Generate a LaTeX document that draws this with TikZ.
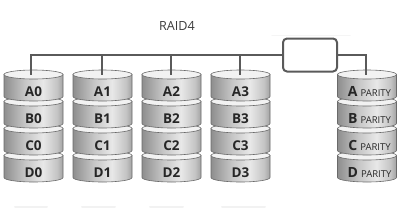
\documentclass[tikz,border=0pt]{standalone}
\usepackage{fontspec}
\newfontfamily\labfont{Open Sans}
\definecolor{dl}{HTML}{8E8E8E}
\definecolor{dm}{HTML}{C4C4C4}
\definecolor{dh}{HTML}{E8E8E8}
\definecolor{dr}{HTML}{A2A2A2}
\definecolor{edge}{HTML}{6A6A6A}
\definecolor{topc}{HTML}{F2F2F2}
\definecolor{linec}{HTML}{5A5A5A}
\definecolor{txt}{HTML}{262626}
\pgfdeclarehorizontalshading{diskbody}{100bp}{color(0bp)=(dl); color(25bp)=(dl); color(42bp)=(dm); color(58bp)=(dh); color(70bp)=(dm); color(75bp)=(dr); color(100bp)=(dr)}
\tikzset{
  conn/.style={draw=linec, line width=2pt},
  ctrlbox/.style={draw=linec, line width=2pt, fill=white, rounded corners=4pt, minimum width=54pt, minimum height=33pt, inner sep=0pt},
  disklabel/.style={font=\labfont\bfseries\fontsize{13.5}{14}\selectfont, text=txt, inner sep=0pt},
  parlabel/.style={font=\labfont\fontsize{14}{15}\selectfont, text=txt, inner sep=0pt},
  titlelabel/.style={font=\labfont\fontsize{12.6}{14}\selectfont, text=txt!90, inner sep=0pt},
  diskedge/.style={draw=edge, line width=0.6pt},
  refl/.style={draw=gray!10, line width=2pt, line cap=round}
}
\begin{document}
\begin{tikzpicture}[x=1pt,y=1pt]
\useasboundingbox (0,0) rectangle (400,-218);
% faint reflections
\foreach \a/\b in {15/47,82/115,150/183,222/265}{
  \draw[refl] (\a,-207) -- (\b,-207);
}
\draw[draw=gray!8, line width=1.5pt, line cap=round] (272,-35.5) -- (350,-35.5);
% data stacks
\foreach \cx [count=\k from 0] in {33.5,102.5,171.5,240.5}{
  \foreach \r/\L in {3/D,2/C,1/B,0/A}{
    \pgfmathsetmacro\Y{-74.5-27*\r}
    \shade[shading=diskbody, diskedge] (\cx-29.5,\Y) -- (\cx-29.5,\Y-22)
      arc[start angle=180, end angle=360, x radius=29.5, y radius=4.5] -- (\cx+29.5,\Y) -- cycle;
    \filldraw[fill=topc, diskedge] (\cx,\Y) ellipse[x radius=29.5, y radius=4.5];
    \node[disklabel] (l\L\k) at (\cx,\Y-17) {\L\k};
  }
}
% parity stack
\foreach \r/\L in {3/D,2/C,1/B,0/A}{
  \pgfmathsetmacro\Y{-74.5-27*\r}
  \shade[shading=diskbody, diskedge] (337.5,\Y) -- (337.5,\Y-22)
    arc[start angle=180, end angle=360, x radius=29.5, y radius=4.5] -- (396.5,\Y) -- cycle;
  \filldraw[fill=topc, diskedge] (367,\Y) ellipse[x radius=29.5, y radius=4.5];
  \node[parlabel] (p\L) at (369.5,\Y-17) {{\bfseries\L}\hspace{3pt}{\fontsize{9.5}{10}\selectfont PARITY}};
}
% title
\node[titlelabel] (title) at (177,-25.5) {RAID4};
% controller and bus
\node[ctrlbox] (ctrl) at (310,-55) {};
\coordinate (t0) at (31,-74.5);
\coordinate (t1) at (102,-74.5);
\coordinate (t2) at (171,-74.5);
\coordinate (t3) at (240,-74.5);
\coordinate (t4) at (366,-74.5);
\draw[conn] (t0) |- (ctrl.west);
\draw[conn] (t1) -- (t1 |- ctrl.west);
\draw[conn] (t2) -- (t2 |- ctrl.west);
\draw[conn] (t3) -- (t3 |- ctrl.west);
\draw[conn] (ctrl.east) -| (t4);
\end{tikzpicture}
\end{document}
